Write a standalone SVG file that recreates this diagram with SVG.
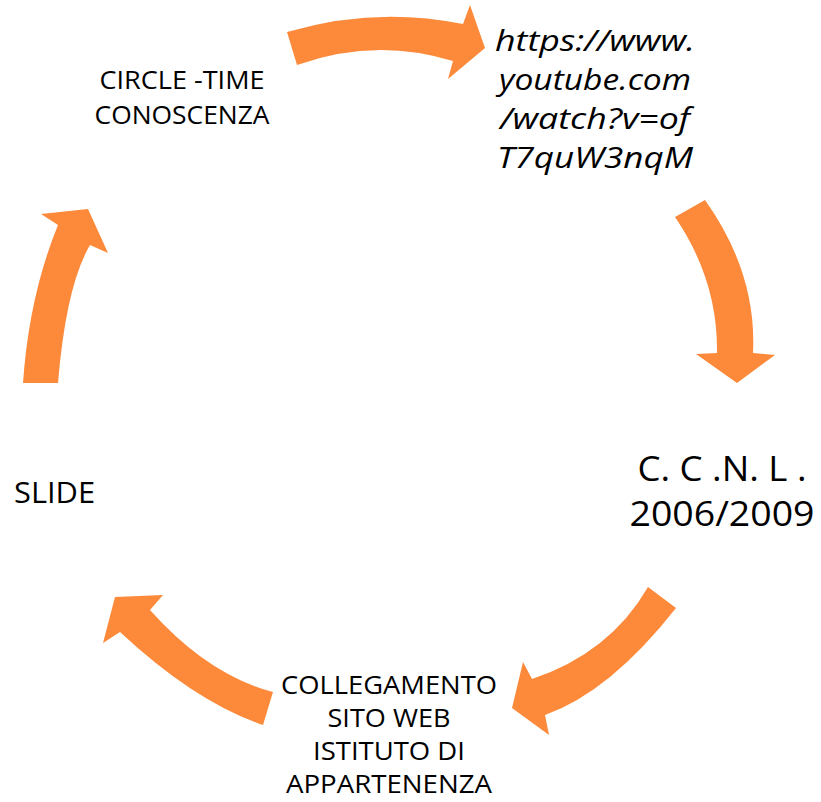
<svg xmlns="http://www.w3.org/2000/svg" width="821" height="802" viewBox="0 0 821 802">
<style>
.arr{fill:#FD893A;stroke:none}
.t{font-family:"Open Sans","Liberation Sans",sans-serif;fill:#000;text-anchor:middle}
</style>
<rect width="821" height="802" fill="#fff"/>
<g id="connectors">
<path class="arr" d="M287,32 Q375,6 463,24 L470,5 L485,48 L448,79 L453,61 Q375,37 297,65 Z"/>
<path class="arr" d="M705,200 Q757,273 753,353 L775,355 L737,383 L696,354 L717,353 Q718,280 675,217 Z"/>
<path class="arr" d="M676,608 Q610,692 545,715 L549,735 L512,708 L523,662 L532,679 Q610,653 648,587 Z"/>
<path class="arr" d="M263,725 Q195,702 120,632 L103,643 L115,597 L163,595 L150,610 Q208,675 273,692 Z"/>
<path class="arr" d="M23,383 Q29,296 58,225 L41,214 L88,209 L108,253 L90,245 Q66,286 58,383 Z"/>
</g>
<g id="node1">
<text class="t" font-size="25" x="182" y="89" textLength="165" lengthAdjust="spacingAndGlyphs">CIRCLE -TIME</text>
<text class="t" font-size="25" x="182" y="124" textLength="175" lengthAdjust="spacingAndGlyphs">CONOSCENZA</text>
</g>
<g id="node2">
<text class="t" font-size="30" font-style="italic" x="595" y="51" textLength="200" lengthAdjust="spacingAndGlyphs">https://www.</text>
<text class="t" font-size="30" font-style="italic" x="595" y="90" textLength="192" lengthAdjust="spacingAndGlyphs">youtube.com</text>
<text class="t" font-size="30" font-style="italic" x="595" y="129" textLength="190" lengthAdjust="spacingAndGlyphs">/watch?v=of</text>
<text class="t" font-size="30" font-style="italic" x="595" y="168" textLength="196" lengthAdjust="spacingAndGlyphs">T7quW3nqM</text>
</g>
<g id="node3">
<text class="t" font-size="34" x="722" y="481" textLength="169" lengthAdjust="spacingAndGlyphs">C. C .N. L .</text>
<text class="t" font-size="34" x="722" y="526" textLength="185" lengthAdjust="spacingAndGlyphs">2006/2009</text>
</g>
<g id="node4">
<text class="t" font-size="25" x="389" y="694" textLength="216" lengthAdjust="spacingAndGlyphs">COLLEGAMENTO</text>
<text class="t" font-size="25" x="389" y="727" textLength="123" lengthAdjust="spacingAndGlyphs">SITO WEB</text>
<text class="t" font-size="25" x="389" y="760" textLength="152" lengthAdjust="spacingAndGlyphs">ISTITUTO DI</text>
<text class="t" font-size="25" x="389" y="793" textLength="206" lengthAdjust="spacingAndGlyphs">APPARTENENZA</text>
</g>
<g id="node5">
<text class="t" font-size="30" x="14" y="503" style="text-anchor:start" textLength="81" lengthAdjust="spacingAndGlyphs">SLIDE</text>
</g>
</svg>
